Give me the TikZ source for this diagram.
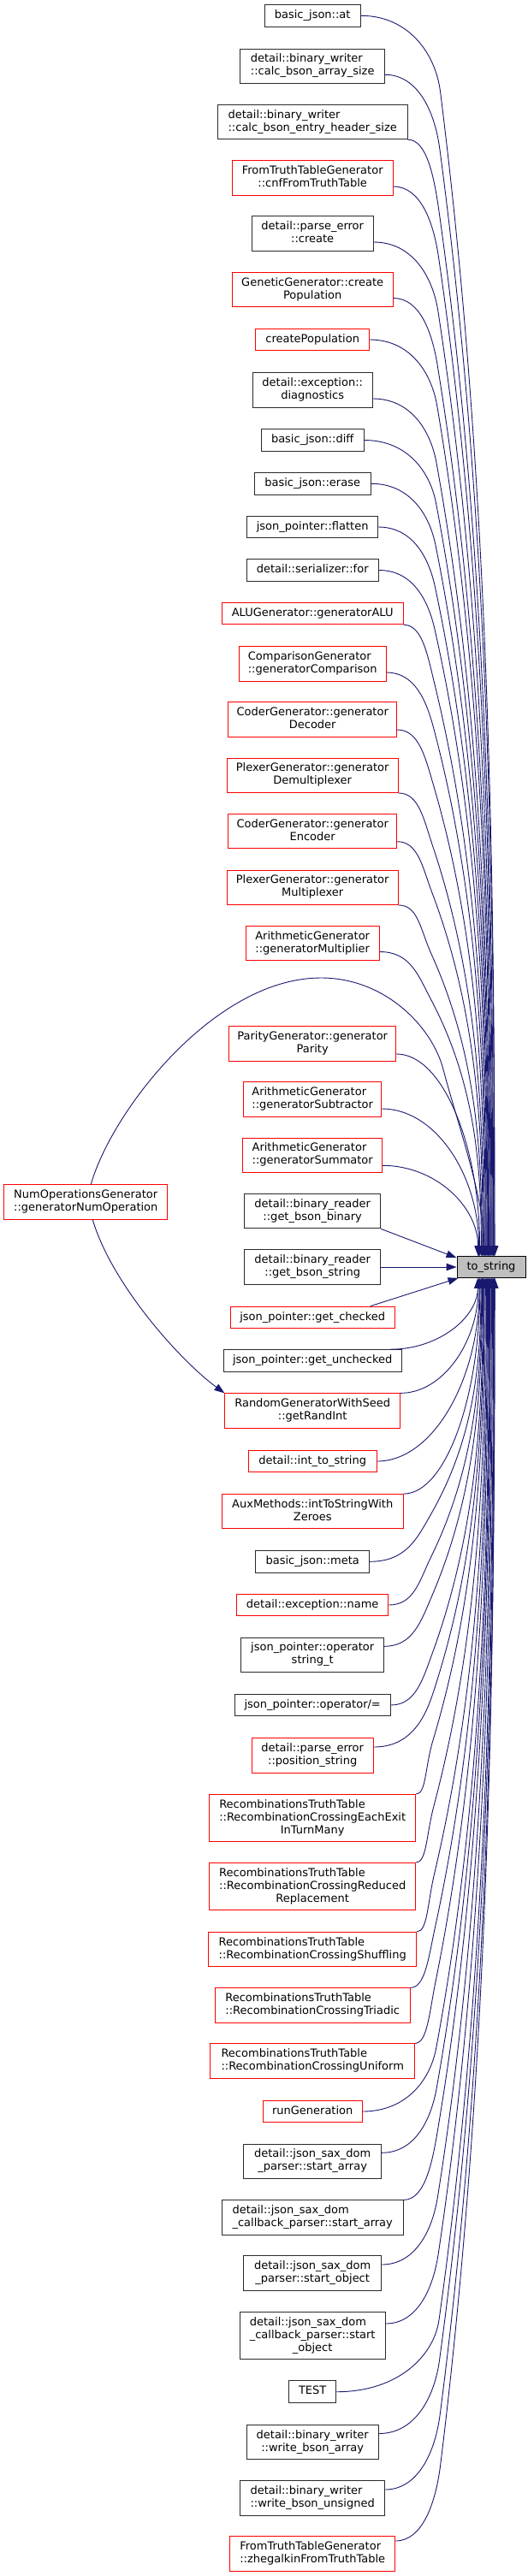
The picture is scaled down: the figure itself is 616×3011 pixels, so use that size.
\documentclass[tikz,border=0pt]{standalone}
\usepackage{fontspec}
\setmainfont{DejaVu Sans}
\usetikzlibrary{arrows.meta,calc}
\definecolor{edgec}{HTML}{191970}
\definecolor{kb}{HTML}{2A2A2A}
\definecolor{rb}{HTML}{FF0000}
\definecolor{tsfill}{HTML}{BFBFBF}
\newcommand\La[1]{\begin{tabular}{@{}c@{}}#1\end{tabular}}
\newcommand\Lb[2]{\begin{tabular}{@{}l@{}}#1\\\multicolumn{1}{@{}c@{}}{#2}\end{tabular}}
\newcommand\Lc[3]{\begin{tabular}{@{}l@{}}#1\\#2\\\multicolumn{1}{@{}c@{}}{#3}\end{tabular}}
% far edge from a node above to_string
\newcommand\farT[1]{%
 \draw[edge] let \p1=(#1), \p2=(ts.north),
   \n1={\y1-\y2}, \n2={\x2+min(4,-17+0.015*\n1)},
   \n3={45+0.03*\n1}, \n4={500+0.01*\n1}, \n5={\y1-\n3},
   \n6={\n1-\n3}, \n7={2.7*(\n2-\n4)/\n6}
 in (\p1) .. controls ({\x1+0.6*(\n4-\x1)},\y1) and ({\n4-0.5*\n3*\n7},{\n5+0.5*\n3}) .. (\n4,\n5)
   .. controls ({\n4+0.9*(\n2-\n4)},{\n5-\n6/3}) and (\n2,{\y2+\n6/3}) .. (\n2,\y2);}
\newcommand\nearT[1]{%
 \draw[edge] let \p1=(#1), \p2=(ts.north),
   \n1={\y1-\y2}, \n2={\x2+min(4,-17+0.015*\n1)}
 in (\p1) .. controls ({\x1+0.55*(\n2-\x1)},\y1) and (\n2,{\y2+0.55*\n1}) .. (\n2,\y2);}
% edges from nodes below to_string
\newcommand\farB[1]{%
 \draw[edge] let \p1=(#1), \p2=(ts.south),
   \n1={\y2-\y1}, \n2={\x2+min(4,-17+0.015*\n1)},
   \n3={45+0.03*\n1}, \n4={500+0.01*\n1}, \n5={\y1+\n3},
   \n6={\n1-\n3}, \n7={2.7*(\n2-\n4)/\n6}
 in (\p1) .. controls ({\x1+0.6*(\n4-\x1)},\y1) and ({\n4-0.5*\n3*\n7},{\n5-0.5*\n3}) .. (\n4,\n5)
   .. controls ({\n4+0.9*(\n2-\n4)},{\n5+\n6/3}) and (\n2,{\y2-\n6/3}) .. (\n2,\y2);}
\newcommand\nearB[1]{%
 \draw[edge] let \p1=(#1), \p2=(ts.south),
   \n1={\y2-\y1}, \n2={\x2+min(4,-17+0.015*\n1)}
 in (\p1) .. controls ({\x1+0.55*(\n2-\x1)},\y1) and (\n2,{\y2-0.55*\n1}) .. (\n2,\y2);}
\tikzset{
 box/.style={draw, line width=1pt, inner sep=0pt, fill=white, font=\fontsize{13}{15}\selectfont},
 kbox/.style={box, draw=kb},
 rbox/.style={box, draw=rb},
 ha/.style={minimum height=25.7pt},
 hb/.style={minimum height=40.3pt},
 hc/.style={minimum height=55pt},
 edge/.style={draw=edgec, line width=0.9pt, -{Triangle[length=12pt,width=8.5pt]}},
}
\begin{document}
\begin{tikzpicture}[x=1pt,y=1pt]
\fill[white] (0,0) rectangle (616,-3011);
\useasboundingbox (0,0) rectangle (616,-3011);
\def\cx{365.2}
\node[kbox,ha,minimum width=112pt] (n1) at (\cx,-18.3) {\La{basic\_json::at}};
\node[kbox,hb,minimum width=168.6pt] (n2) at (\cx,-77.3) {\Lb{detail::binary\_writer}{::calc\_bson\_array\_size}};
\node[kbox,hb,minimum width=221.6pt] (n3) at (\cx,-142.5) {\Lb{detail::binary\_writer}{::calc\_bson\_entry\_header\_size}};
\node[rbox,hb,minimum width=188pt] (n4) at (\cx,-208) {\Lb{FromTruthTableGenerator}{::cnfFromTruthTable}};
\node[kbox,hb,minimum width=142.2pt] (n5) at (\cx,-273) {\Lb{detail::parse\_error}{::create}};
\node[rbox,hb,minimum width=188pt] (n6) at (\cx,-338.5) {\Lb{GeneticGenerator::create}{Population}};
\node[rbox,ha,minimum width=132.7pt] (n7) at (\cx,-397) {\La{createPopulation}};
\node[kbox,hb,minimum width=139.8pt] (n8) at (\cx,-456) {\Lb{detail::exception::}{diagnostics}};
\node[kbox,ha,minimum width=119.7pt] (n9) at (\cx,-514.5) {\La{basic\_json::diff}};
\node[kbox,ha,minimum width=135.9pt] (n10) at (\cx,-565.3) {\La{basic\_json::erase}};
\node[kbox,ha,minimum width=152.8pt] (n11) at (\cx,-616) {\La{json\_pointer::flatten}};
\node[kbox,ha,minimum width=154.4pt] (n12) at (\cx,-666.5) {\La{detail::serializer::for}};
\node[rbox,ha,minimum width=212pt] (n13) at (\cx,-717) {\La{ALUGenerator::generatorALU}};
\node[rbox,hb,minimum width=171.8pt] (n14) at (\cx,-776) {\Lb{ComparisonGenerator}{::generatorComparison}};
\node[rbox,hb,minimum width=197pt] (n15) at (\cx,-841) {\Lb{CoderGenerator::generator}{Decoder}};
\node[rbox,hb,minimum width=200pt] (n16) at (\cx,-906.3) {\Lb{PlexerGenerator::generator}{Demultiplexer}};
\node[rbox,hb,minimum width=197pt] (n17) at (\cx,-971.7) {\Lb{CoderGenerator::generator}{Encoder}};
\node[rbox,hb,minimum width=200pt] (n18) at (\cx,-1037.3) {\Lb{PlexerGenerator::generator}{Multiplexer}};
\node[rbox,hb,minimum width=156.4pt] (n19) at (\cx,-1102.5) {\Lb{ArithmeticGenerator}{::generatorMultiplier}};
\node[rbox,hb,minimum width=195.5pt] (n20) at (\cx,-1220) {\Lb{ParityGenerator::generator}{Parity}};
\node[rbox,hb,minimum width=161.5pt] (n21) at (\cx,-1285) {\Lb{ArithmeticGenerator}{::generatorSubtractor}};
\node[rbox,hb,minimum width=162.7pt] (n22) at (\cx,-1350.3) {\Lb{ArithmeticGenerator}{::generatorSummator}};
\node[kbox,hb,minimum width=158.8pt] (n23) at (\cx,-1415.7) {\Lb{detail::binary\_reader}{::get\_bson\_binary}};
\node[kbox,hb,minimum width=158.8pt] (n24) at (\cx,-1481) {\Lb{detail::binary\_reader}{::get\_bson\_string}};
\node[rbox,ha,minimum width=192.3pt] (n25) at (\cx,-1540) {\La{json\_pointer::get\_checked}};
\node[kbox,ha,minimum width=208pt] (n26) at (\cx,-1590.5) {\La{json\_pointer::get\_unchecked}};
\node[rbox,hb,minimum width=204.6pt] (n27) at (\cx,-1649) {\Lb{RandomGeneratorWithSeed}{::getRandInt}};
\node[rbox,ha,minimum width=149.7pt] (n28) at (\cx,-1708) {\La{detail::int\_to\_string}};
\node[rbox,hb,minimum width=212pt] (n29) at (\cx,-1766.7) {\Lb{AuxMethods::intToStringWith}{Zeroes}};
\node[kbox,ha,minimum width=132.7pt] (n30) at (\cx,-1825.3) {\La{basic\_json::meta}};
\node[rbox,ha,minimum width=177.3pt] (n31) at (\cx,-1876) {\La{detail::exception::name}};
\node[kbox,hb,minimum width=167pt] (n32) at (\cx,-1934.3) {\Lb{json\_pointer::operator}{string\_t}};
\node[kbox,ha,minimum width=182pt] (n33) at (\cx,-1993) {\La{json\_pointer::operator/=}};
\node[rbox,hb,minimum width=142.2pt] (n34) at (\cx,-2052) {\Lb{detail::parse\_error}{::position\_string}};
\node[rbox,hc,minimum width=241pt] (n35) at (\cx,-2125) {\Lc{RecombinationsTruthTable}{::RecombinationCrossingEachExit}{InTurnMany}};
\node[rbox,hc,minimum width=241pt] (n36) at (\cx,-2205) {\Lc{RecombinationsTruthTable}{::RecombinationCrossingReduced}{Replacement}};
\node[rbox,hb,minimum width=243.3pt] (n37) at (\cx,-2278.5) {\Lb{RecombinationsTruthTable}{::RecombinationCrossingShuffling}};
\node[rbox,hb,minimum width=227.9pt] (n38) at (\cx,-2344) {\Lb{RecombinationsTruthTable}{::RecombinationCrossingTriadic}};
\node[rbox,hb,minimum width=238.5pt] (n39) at (\cx,-2409) {\Lb{RecombinationsTruthTable}{::RecombinationCrossingUniform}};
\node[rbox,ha,minimum width=115.7pt] (n40) at (\cx,-2468) {\La{runGeneration}};
\node[kbox,hb,minimum width=160.7pt] (n41) at (\cx,-2526.3) {\Lb{detail::json\_sax\_dom}{\_parser::start\_array}};
\node[kbox,hb,minimum width=212pt] (n42) at (\cx,-2592) {\Lb{detail::json\_sax\_dom}{\_callback\_parser::start\_array}};
\node[kbox,hb,minimum width=160.7pt] (n43) at (\cx,-2657) {\Lb{detail::json\_sax\_dom}{\_parser::start\_object}};
\node[kbox,hc,minimum width=170.2pt] (n44) at (\cx,-2730) {\Lc{detail::json\_sax\_dom}{\_callback\_parser::start}{\_object}};
\node[kbox,ha,minimum width=55.3pt] (n45) at (\cx,-2795.7) {\La{TEST}};
\node[kbox,hb,minimum width=154.4pt] (n46) at (\cx,-2854.5) {\Lb{detail::binary\_writer}{::write\_bson\_array}};
\node[kbox,hb,minimum width=168.6pt] (n47) at (\cx,-2920) {\Lb{detail::binary\_writer}{::write\_bson\_unsigned}};
\node[rbox,hb,minimum width=193.1pt] (n48) at (\cx,-2985) {\Lb{FromTruthTableGenerator}{::zhegalkinFromTruthTable}};
\node[rbox,hb,minimum width=191.2pt] (nop) at (100.3,-1405) {\Lb{NumOperationsGenerator}{::generatorNumOperation}};
\node[box,draw=black,fill=tsfill,minimum width=80pt,minimum height=24.7pt] (ts) at (574.05,-1481) {\La{to\_string}};
% edges from above
\farT{n1.east}
\farT{[yshift=-10pt]n2.east}
\farT{n3.south east}
\farT{[yshift=-10pt]n4.east}
\farT{[yshift=-10pt]n5.east}
\farT{[yshift=-10pt]n6.east}
\farT{n7.east}
\farT{[yshift=-10pt]n8.east}
\farT{n9.east}
\farT{n10.east}
\farT{n11.east}
\farT{n12.east}
\farT{n13.south east}
\farT{[yshift=-10pt]n14.east}
\farT{[yshift=-12pt]n15.east}
\farT{n16.south east}
\farT{[yshift=-12pt]n17.east}
\farT{n18.south east}
\farT{[yshift=-10pt]n19.east}
\nearT{[yshift=-12pt]n20.east}
\nearT{[yshift=-11pt]n21.east}
\nearT{[yshift=-12pt]n22.east}
\draw[edge] (n23.south east) -- ([yshift=-2pt]ts.north west);
\draw[edge] (n24.east) -- (ts.west);
\draw[edge] ([xshift=-29pt]n25.north east) -- ([xshift=2pt]ts.south west);
% edges from below
\nearB{[xshift=-13pt]n26.north east}
\nearB{n27.north east}
\nearB{n28.east}
\nearB{n29.north east}
\farB{n30.east}
\farB{n31.east}
\farB{[yshift=10pt]n32.east}
\farB{n33.east}
\farB{[yshift=10pt]n34.east}
\farB{n35.north east}
\farB{n36.north east}
\farB{n37.north east}
\farB{n38.north east}
\farB{n39.north east}
\farB{n40.east}
\farB{[yshift=10pt]n41.east}
\farB{n42.north east}
\farB{[yshift=10pt]n43.east}
\farB{[yshift=14pt]n44.east}
\farB{n45.east}
\farB{[yshift=10pt]n46.east}
\farB{[yshift=10pt]n47.east}
\farB{[yshift=15pt]n48.east}
% NumOperationsGenerator edges
\draw[edge] ([xshift=6pt]nop.north) .. controls (130,-1300) and (250,-1143) .. (375,-1143)
  .. controls (450,-1143) and (505,-1200) .. (518,-1250)
  .. controls (533.6,-1310) and (566,-1400) .. ([xshift=-8pt]ts.north);
\draw[edge] ([xshift=8pt]nop.south) .. controls (130,-1500) and (210,-1590) .. (n27.north west);
\end{tikzpicture}
\end{document}
